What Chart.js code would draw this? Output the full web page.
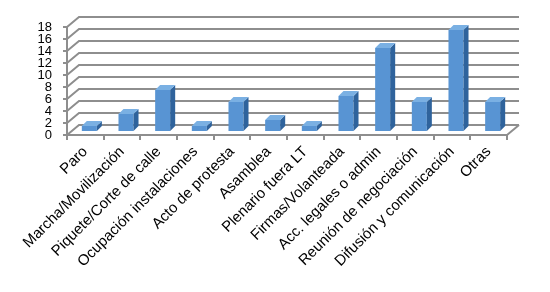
<!DOCTYPE html>
<html>
<head>
<meta charset="utf-8">
<script src="https://cdn.jsdelivr.net/npm/chart.js@4/dist/chart.umd.min.js"></script>
<style>
  html, body { margin: 0; padding: 0; background: #ffffff; }
  #wrap { width: 550px; height: 292px; position: relative; }
</style>
</head>
<body>
<div id="wrap"><canvas id="c" width="550" height="292"></canvas></div>
<script>
const categories = [
  "Paro",
  "Marcha/Movilización",
  "Piquete/Corte de calle",
  "Ocupación instalaciones",
  "Acto de protesta",
  "Asamblea",
  "Plenario fuera LT",
  "Firmas/Volanteada",
  "Acc. legales o admin",
  "Reunión de negociación",
  "Difusión y comunicación",
  "Otras"
];
const values = [1, 3, 7, 1, 5, 2, 1, 6, 14, 5, 17, 5];
const yMin = 0;
const yMax = 18;
const yStep = 2;

// 3D geometry (pixels)
const DEPTH_X = 12, DEPTH_Y = -10;   // back wall offset
const BAR_SHIFT_X = 4, BAR_SHIFT_Y = -3; // bar front face offset from front plane
const BAR_DX = 5, BAR_DY = -5;        // bar depth

const GRID_COLOR = '#8e8e8e';
const FRONT = '#5894d3';
const SIDE = '#2f639c';
const TOP = '#7ab0e3';

const threeD = {
  id: 'threeD',
  beforeDatasetsDraw(chart) {
    const ctx = chart.ctx;
    const ys = chart.scales.y;
    const ca = chart.chartArea;
    ctx.save();
    ctx.strokeStyle = GRID_COLOR;
    ctx.lineWidth = 2;
    ctx.lineCap = 'butt';
    ys.ticks.forEach(t => {
      const y = ys.getPixelForValue(t.value);
      ctx.beginPath();
      ctx.moveTo(ca.left, y);
      ctx.lineTo(ca.left + DEPTH_X, y + DEPTH_Y);
      ctx.lineTo(ca.right + DEPTH_X, y + DEPTH_Y);
      ctx.stroke();
    });
    const yb = ys.getPixelForValue(yMin);
    ctx.beginPath();
    ctx.moveTo(ca.right, yb);
    ctx.lineTo(ca.right + DEPTH_X, yb + DEPTH_Y);
    ctx.stroke();
    ctx.restore();
    ctx.save();
    ctx.translate(BAR_SHIFT_X, BAR_SHIFT_Y);
  },
  afterDatasetsDraw(chart) {
    const ctx = chart.ctx;
    const meta = chart.getDatasetMeta(0);
    meta.data.forEach(bar => {
      const p = bar.getProps(['x', 'y', 'base', 'width'], true);
      const l = p.x - p.width / 2, r = p.x + p.width / 2;
      const top = Math.min(p.y, p.base), bot = Math.max(p.y, p.base);
      ctx.beginPath();
      ctx.moveTo(r, bot);
      ctx.lineTo(r + BAR_DX, bot + BAR_DY);
      ctx.lineTo(r + BAR_DX, top + BAR_DY);
      ctx.lineTo(r, top);
      ctx.closePath();
      ctx.fillStyle = SIDE;
      ctx.fill();
      ctx.beginPath();
      ctx.moveTo(l, top);
      ctx.lineTo(l + BAR_DX, top + BAR_DY);
      ctx.lineTo(r + BAR_DX, top + BAR_DY);
      ctx.lineTo(r, top);
      ctx.closePath();
      ctx.fillStyle = TOP;
      ctx.fill();
    });
    ctx.restore();
  }
};

new Chart(document.getElementById('c'), {
  type: 'bar',
  data: {
    labels: categories,
    datasets: [{
      data: values,
      backgroundColor: FRONT,
      borderWidth: 0,
      categoryPercentage: 1,
      barPercentage: 0.41
    }]
  },
  options: {
    responsive: false,
    animation: false,
    devicePixelRatio: 1,
    layout: { padding: { top: 27, right: 43, left: 0, bottom: 0 } },
    plugins: { legend: { display: false }, tooltip: { enabled: false } },
    scales: {
      x: {
        afterFit(s) { s.height = 157; },
        grid: { display: true, drawOnChartArea: false, drawTicks: true, tickLength: 5, color: GRID_COLOR, lineWidth: 2, offset: true },
        border: { display: true, color: GRID_COLOR, width: 2 },
        ticks: {
          autoSkip: false, minRotation: 45, maxRotation: 45,
          color: '#000', padding: 3,
          font: { family: '"Liberation Sans", Arial, sans-serif', size: 15 }
        }
      },
      y: {
        min: yMin, max: yMax,
        afterFit(s) { s.width = 67; },
        grid: { display: true, drawOnChartArea: false, drawTicks: true, tickLength: 4, color: GRID_COLOR, lineWidth: 2 },
        border: { display: true, color: GRID_COLOR, width: 2 },
        ticks: {
          stepSize: yStep, autoSkip: false, color: '#000', padding: 11,
          font: { family: '"Liberation Sans", Arial, sans-serif', size: 13 }
        }
      }
    }
  },
  plugins: [threeD]
});
</script>
</body>
</html>
